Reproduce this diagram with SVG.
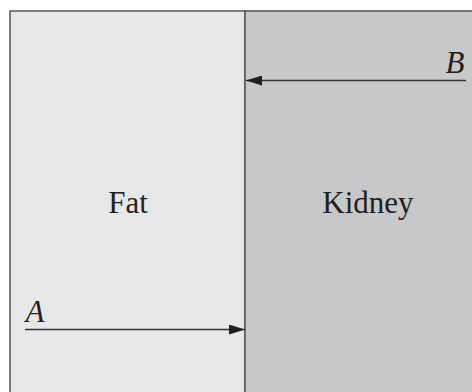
<svg xmlns="http://www.w3.org/2000/svg" width="472" height="392" viewBox="0 0 472 392">
<style>
.lbl{font-family:"Liberation Serif",serif;font-size:31px;fill:#231f20}
.it{font-family:"Liberation Serif",serif;font-size:31px;font-style:italic;fill:#231f20}
.edge{stroke:#333;stroke-width:1.3;fill:none}
</style>
<defs>
<marker id="ah" markerWidth="16" markerHeight="10" refX="16" refY="5" orient="auto" markerUnits="userSpaceOnUse">
<path d="M0,0 L16,5 L0,10 Z" fill="#231f20"/>
</marker>
</defs>
<g id="fat">
<rect x="10" y="11" width="235" height="390" fill="#e6e7e8" stroke="#555" stroke-width="1.5"/>
<text class="lbl" x="128" y="213" text-anchor="middle">Fat</text>
</g>
<g id="kidney">
<rect x="245" y="11" width="240" height="390" fill="#c7c8ca" stroke="#555" stroke-width="1.5"/>
<text class="lbl" x="368" y="213" text-anchor="middle">Kidney</text>
</g>
<g id="connectors">
<line class="edge" x1="466" y1="80.5" x2="246" y2="80.5" marker-end="url(#ah)"/>
<text class="it" x="455" y="73" text-anchor="middle">B</text>
<line class="edge" x1="25" y1="329.5" x2="245" y2="329.5" marker-end="url(#ah)"/>
<text class="it" x="35" y="322" text-anchor="middle">A</text>
</g>
</svg>
